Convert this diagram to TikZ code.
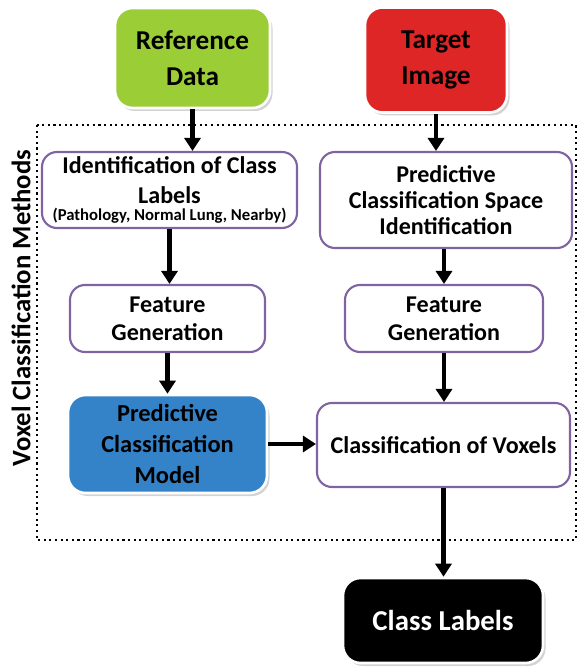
\documentclass[tikz,border=0pt]{standalone}
\usepackage{fontspec}
\setmainfont{Carlito}
\usetikzlibrary{arrows.meta,shadows}

\definecolor{refgreen}{RGB}{155,205,55}
\definecolor{tgtred}{RGB}{222,38,38}
\definecolor{modelblue}{RGB}{52,130,200}
\definecolor{stepviolet}{RGB}{128,100,162}

\begin{document}
\begin{tikzpicture}[
  every node/.style={font=\fontsize{13.7}{14.8}\selectfont\bfseries,align=center,inner sep=0pt},
  solidbox/.style={rounded corners=0.35cm,draw=white,line width=1.5pt,
    drop shadow={opacity=0.35,shadow xshift=0.05cm,shadow yshift=-0.06cm}},
  stepbox/.style={rounded corners=0.3cm,draw=stepviolet,line width=1.2pt,fill=white},
  bigtext/.style={font=\fontsize{15.5}{20.5}\selectfont\bfseries},
  flow/.style={-{Triangle[length=0.26cm,width=0.32cm]},line width=2.8pt}
]
  \useasboundingbox (0,0) rectangle (11.56,-13.4);

  % inputs
  \node[solidbox,bigtext,fill=refgreen,minimum width=3.1cm,minimum height=2.0cm] (ref) at (3.85,-1.16) {Reference\\Data};
  \node[solidbox,bigtext,fill=tgtred,minimum width=2.84cm,minimum height=2.1cm] (tgt) at (8.72,-1.2) {Target\\Image};

  % voxel classification methods
  \draw[dotted,line width=1.2pt] (0.74,-2.5) rectangle (11.52,-10.8);
  \node[rotate=90,font=\fontsize{15.2}{17}\selectfont\bfseries] (side) at (0.42,-6.16) {Voxel Classification Methods};

  \node[stepbox,minimum width=5.1cm,minimum height=1.52cm] (ident) at (3.39,-3.8)
    {Identification of Class\\[2pt]Labels\\[-5pt]{\fontsize{9.5}{10}\selectfont(Pathology, Normal Lung, Nearby)}};
  \node[stepbox,minimum width=5.04cm,minimum height=1.92cm] (space) at (8.92,-4.0)
    {Predictive\\Classification Space\\Identification};

  \node[stepbox,minimum width=3.9cm,minimum height=1.34cm] (feat1) at (3.35,-6.37) {Feature\\[1pt]Generation};
  \node[stepbox,minimum width=3.96cm,minimum height=1.34cm] (feat2) at (8.88,-6.37) {Feature\\[1pt]Generation};

  \node[solidbox,fill=modelblue,minimum width=3.98cm,minimum height=1.96cm,font=\fontsize{13.9}{17.8}\selectfont\bfseries] (model) at (3.35,-8.88)
    {Predictive\\Classification\\Model};
  \node[stepbox,minimum width=5.06cm,minimum height=1.68cm] (vox) at (8.87,-8.9) {Classification of Voxels};

  % output
  \node[solidbox,fill=black,text=white,minimum width=4.0cm,minimum height=1.7cm,font=\fontsize{16.4}{18}\selectfont\bfseries] (cls) at (8.86,-12.41) {Class Labels};

  \draw[flow] (ref.south) -- (ref.south |- ident.north);
  \draw[flow] (tgt.south) -- (tgt.south |- space.north);
  \draw[flow] (ident.south) -- (ident.south |- feat1.north);
  \draw[flow] (feat2.north |- space.south) -- (feat2.north);
  \draw[flow] (feat1.south) -- (feat1.south |- model.north);
  \draw[flow] (feat2.south) -- (feat2.south |- vox.north);
  \draw[flow] (model.east) -- (model.east -| vox.west);
  \draw[flow] (vox.south) -- (vox.south |- cls.north);

\end{tikzpicture}
\end{document}
